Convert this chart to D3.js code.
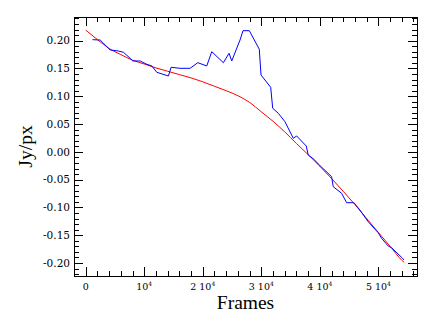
<!DOCTYPE html>
<html>
<head>
<meta charset="utf-8">
<script src="https://cdn.jsdelivr.net/npm/d3@7"></script>
<style>
body { margin: 0; background: #fff; }
svg { display: block; }
</style>
</head>
<body>
<div id="chart"></div>
<script>
// measured light curve (blue)
var frames = [1160, 2474, 2935, 4181, 5546, 6451, 7594, 8055, 9300, 10444, 11297, 12150, 14130, 14590,
    16126, 17833, 19147, 20683, 21536, 23515, 24488, 24949, 26365, 26877, 27952, 29659, 29949, 31604,
    31945, 32901, 34044, 35461, 36041, 37679, 38020, 38993, 39727, 42014, 42287, 43720, 44573, 45819,
    46843, 48259, 49966, 50546, 51672, 52253, 54130, 54352];
var flux = [0.2018, 0.2012, 0.1964, 0.1832, 0.1815, 0.1791, 0.1683, 0.1635, 0.1635, 0.1575, 0.1545,
    0.1431, 0.1365, 0.1521, 0.1503, 0.1503, 0.1604, 0.1545, 0.1802, 0.1604, 0.1773, 0.1635, 0.2012,
    0.2180, 0.2180, 0.1845, 0.1383, 0.1161, 0.0784, 0.0694, 0.0542, 0.0244, 0.0285, 0.0105, -0.0057,
    -0.0134, -0.0219, -0.0447, -0.0627, -0.0746, -0.0915, -0.0915, -0.1046, -0.1257, -0.1455, -0.1555,
    -0.1694, -0.1725, -0.1915, -0.1946];

// fitted curve (red)
var fitFrames = [0, 2000, 4000, 6000, 8000, 10000, 12000, 14000, 16000, 18000, 20000, 22000, 24000,
    26000, 28000, 30000, 32000, 34000, 36000, 38000, 40000, 42000, 44000, 46000, 48000, 50000, 52000,
    54000, 54400];
var fitFlux = [0.219, 0.202, 0.186, 0.175, 0.165, 0.158, 0.151, 0.145, 0.139, 0.133, 0.126, 0.118,
    0.110, 0.101, 0.089, 0.072, 0.055, 0.036, 0.015, -0.005, -0.026, -0.048, -0.071, -0.095, -0.120,
    -0.145, -0.170, -0.195, -0.199];

// tick labels
var xMajorTicks = [0, 10000, 20000, 30000, 40000, 50000];
var xTickBase = ["0", "10", "2 10", "3 10", "4 10", "5 10"];
var xTickExp = ["", "4", "4", "4", "4", "4"];
var yMajorTicks = [0.20, 0.15, 0.10, 0.05, 0.00, -0.05, -0.10, -0.15, -0.20];
var yTickLabels = ["0.20", "0.15", "0.10", "0.05", "0.00", "-0.05", "-0.10", "-0.15", "-0.20"];

var svgWidth = 436;
var svgHeight = 331;
var margin = { top: 17, right: 19, bottom: 55, left: 74 };
var width = svgWidth - margin.left - margin.right;
var height = svgHeight - margin.top - margin.bottom;

var svg = d3.select("#chart")
    .append("svg")
    .attr("width", svgWidth)
    .attr("height", svgHeight);

var g = svg.append("g")
    .attr("transform", `translate(${margin.left}, ${margin.top})`);

var x = d3.scaleLinear().domain([-2000, 56600]).range([0, width]);
var y = d3.scaleLinear().domain([-0.2234, 0.2426]).range([height, 0]);

var xMinor = d3.range(-2000, 56601, 2000).filter(v => v % 10000 !== 0);
var yMinor = d3.range(-22, 25).map(v => v / 100).filter(v => Math.round(v * 100) % 5 !== 0);

function styleAxis(sel) {
    sel.select(".domain").remove();
    sel.selectAll("line").attr("stroke", "#000").attr("shape-rendering", "crispEdges");
}

// inward ticks on all four sides
[[d3.axisBottom, x, xMinor, 5, `translate(0,${height})`],
 [d3.axisBottom, x, xMajorTicks, 9, `translate(0,${height})`],
 [d3.axisTop, x, xMinor, 5, null],
 [d3.axisTop, x, xMajorTicks, 9, null],
 [d3.axisLeft, y, yMinor, 5, null],
 [d3.axisLeft, y, yMajorTicks, 9, null],
 [d3.axisRight, y, yMinor, 5, `translate(${width},0)`],
 [d3.axisRight, y, yMajorTicks, 9, `translate(${width},0)`]
].forEach(function (a) {
    var ax = a[0](a[1]).tickValues(a[2]).tickSize(-a[3]).tickFormat("");
    var sel = g.append("g").call(ax);
    if (a[4]) sel.attr("transform", a[4]);
    styleAxis(sel);
});

// frame
g.append("rect")
    .attr("x", 0).attr("y", 0)
    .attr("width", width).attr("height", height)
    .attr("fill", "none")
    .attr("stroke", "#000")
    .attr("shape-rendering", "crispEdges");

// y tick labels
g.append("g")
    .selectAll("text")
    .data(yMajorTicks)
    .enter()
    .append("text")
    .attr("x", -4)
    .attr("y", d => y(d))
    .attr("dy", "0.35em")
    .style("text-anchor", "end")
    .style("font-family", "'DejaVu Serif'")
    .style("font-size", "10.5px")
    .text((d, i) => yTickLabels[i]);

// x tick labels with superscript
var xl = g.append("g")
    .selectAll("text")
    .data(xMajorTicks)
    .enter()
    .append("text")
    .attr("x", d => x(d))
    .attr("y", height + 14)
    .style("text-anchor", "middle")
    .style("font-family", "'DejaVu Serif'")
    .style("font-size", "9.5px");
xl.append("tspan").text((d, i) => xTickBase[i]);
xl.append("tspan")
    .attr("dy", -4)
    .style("font-size", "6px")
    .text((d, i) => xTickExp[i]);

// lines
var line = d3.line().x(d => x(d[0])).y(d => y(d[1]));
var fitLine = d3.line().x(d => x(d[0])).y(d => y(d[1])).curve(d3.curveMonotoneX);

g.append("path")
    .datum(fitFrames.map((f, i) => [f, fitFlux[i]]))
    .attr("d", fitLine)
    .attr("fill", "none")
    .attr("stroke", "#ff0000")
    .attr("stroke-width", 1);

g.append("path")
    .datum(frames.map((f, i) => [f, flux[i]]))
    .attr("d", line)
    .attr("fill", "none")
    .attr("stroke", "#0000ff")
    .attr("stroke-width", 1);

// axis titles
svg.append("text")
    .attr("x", margin.left + width / 2)
    .attr("y", 309)
    .style("text-anchor", "middle")
    .style("font-family", "'Liberation Serif'")
    .style("font-size", "19.5px")
    .text("Frames");

svg.append("text")
    .attr("transform", "rotate(-90)")
    .attr("x", -(margin.top + height / 2))
    .attr("y", 32)
    .style("text-anchor", "middle")
    .style("font-family", "'Liberation Serif'")
    .style("font-size", "19.5px")
    .text("Jy/px");
</script>
</body>
</html>
